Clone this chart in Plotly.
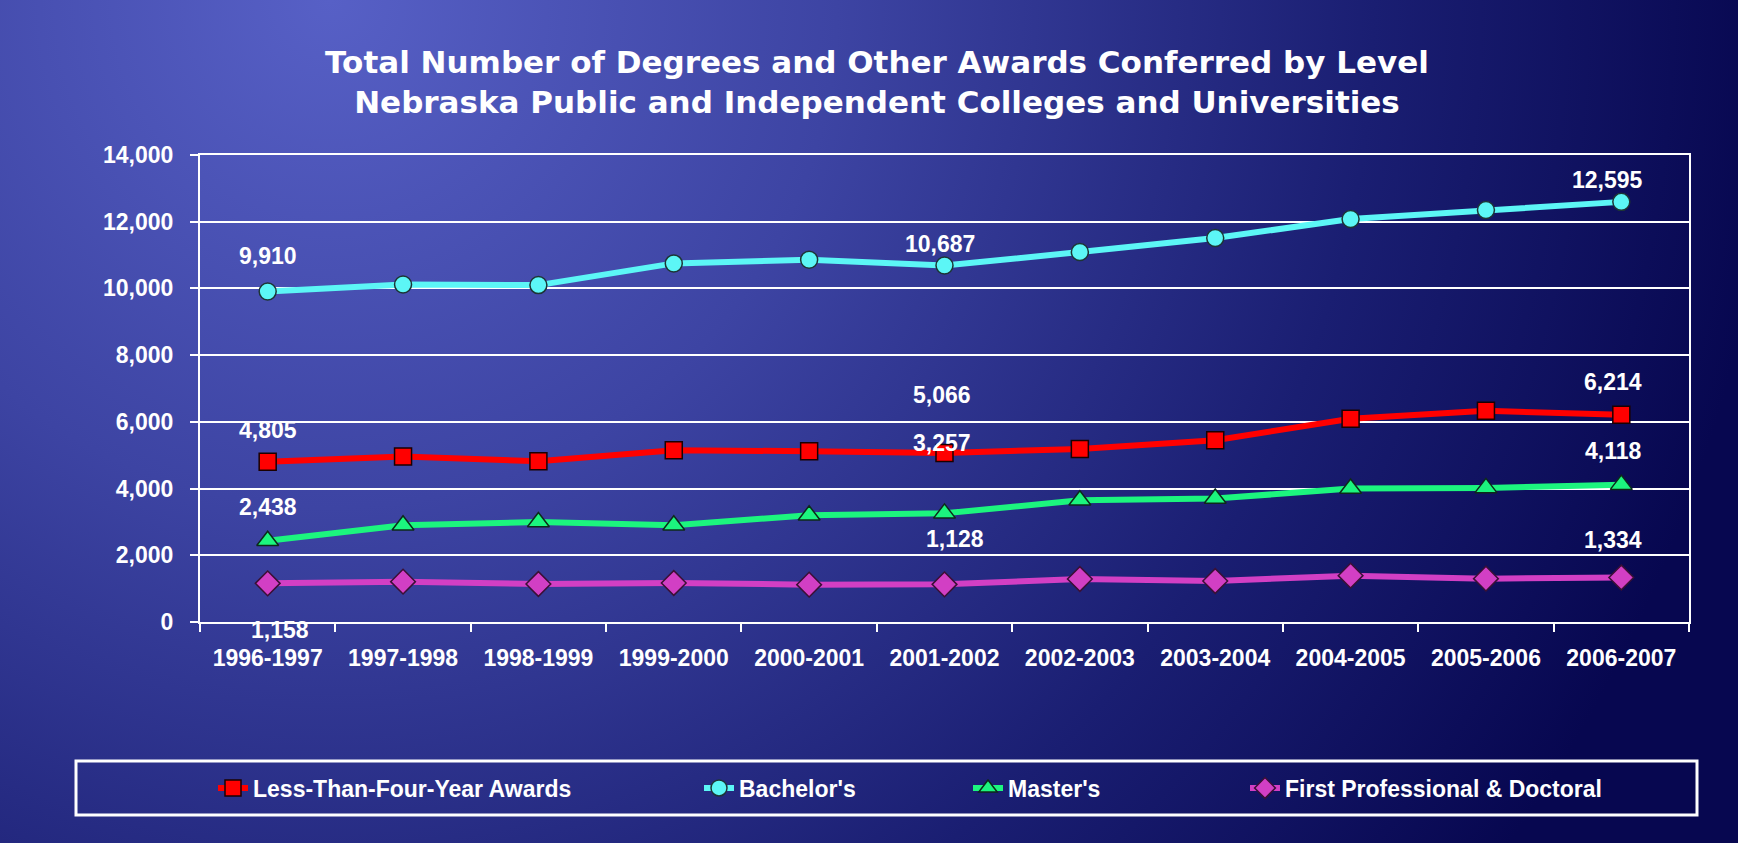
import base64
import plotly.graph_objects as go

# ---------------- data ----------------
years = ["1996-1997", "1997-1998", "1998-1999", "1999-2000", "2000-2001", "2001-2002",
         "2002-2003", "2003-2004", "2004-2005", "2005-2006", "2006-2007"]
less_than_four = [4805, 4960, 4820, 5150, 5120, 5066, 5190, 5450, 6090, 6330, 6214]
bachelors = [9910, 10120, 10100, 10750, 10860, 10687, 11090, 11510, 12080, 12350, 12595]
masters = [2438, 2900, 3000, 2900, 3200, 3257, 3650, 3700, 4000, 4020, 4118]
first_prof = [1158, 1210, 1140, 1170, 1120, 1128, 1290, 1230, 1390, 1300, 1334]
series_names = ["Less-Than-Four-Year Awards", "Bachelor's", "Master's", "First Professional & Doctoral"]
y_ticks = [0, 2000, 4000, 6000, 8000, 10000, 12000, 14000]
labeled_idx = [0, 5, 10]

# ---------------- layout geometry ----------------
W, H = 1738, 843
ML, MR, MT, MB = 200, 49, 155, 221
PW, PH = W - ML - MR, H - MT - MB

def px_x(px):
    return (px - ML) / PW

def px_y(py):
    return (H - MB - py) / PH

FONT = "Liberation Sans, Arial, Helvetica, sans-serif"
TITLE_FONT = "DejaVu Sans, Verdana, sans-serif"

styles = [
    dict(color="#ff0000", symbol="square", size=17, edge="#1a0000"),
    dict(color="#5cf6f6", symbol="circle", size=17, edge="#1d3535"),
    dict(color="#1cf57e", symbol="triangle-up", size=19, edge="#0d2a1a"),
    dict(color="#d23fc4", symbol="diamond", size=19, edge="#3a1035"),
]
series = [less_than_four, bachelors, masters, first_prof]
legend_ids = ["legend", "legend2", "legend3", "legend4"]
legend_left_px = [213, 699, 968, 1245]

# label offsets (pixels) for the labeled points: (xshift, yshift)
label_offsets = [
    [(0, 32), (-3, 58), (-8, 33)],
    [(0, 35), (-5, 22), (-14, 22)],
    [(0, 34), (-3, 70), (-8, 34)],
    [(12, -47), (10, 45), (-8, 38)],
]

fig = go.Figure()
for name, vals, st, lg in zip(series_names, series, styles, legend_ids):
    fig.add_trace(go.Scatter(
        x=years, y=vals, name=name, mode="lines+markers", legend=lg,
        line=dict(color=st["color"], width=6),
        marker=dict(symbol=st["symbol"], size=st["size"], color=st["color"],
                    line=dict(color=st["edge"], width=1.5)),
    ))

annotations = []
for vals, offs in zip(series, label_offsets):
    for i, (dx, dy) in zip(labeled_idx, offs):
        annotations.append(dict(
            x=years[i], y=vals[i], xref="x", yref="y", text=f"{vals[i]:,}",
            showarrow=False, xshift=dx, yshift=dy,
            font=dict(family=FONT, size=23, color="white", weight="bold"),
        ))

# gradient background
svg = f'''<svg xmlns="http://www.w3.org/2000/svg" width="{W}" height="{H}" viewBox="0 0 {W} {H}" preserveAspectRatio="none">
<defs><radialGradient id="g" cx="330" cy="0" r="1450" gradientUnits="userSpaceOnUse">
<stop offset="0" stop-color="#5760c6"/><stop offset="0.35" stop-color="#3d44a3"/>
<stop offset="0.72" stop-color="#1a1e72"/><stop offset="1" stop-color="#070750"/></radialGradient></defs>
<rect width="{W}" height="{H}" fill="url(#g)"/></svg>'''
bg_src = "data:image/svg+xml;base64," + base64.b64encode(svg.encode()).decode()

legend_common = dict(
    orientation="h", xref="container", yref="container", xanchor="left", yanchor="middle",
    y=1 - 788 / H, bgcolor="rgba(0,0,0,0)", borderwidth=0,
    font=dict(family=FONT, size=23, color="white", weight="bold"),
)
legends = {}
for lg, lx in zip(legend_ids, legend_left_px):
    legends[lg] = dict(legend_common, x=lx / W)

fig.update_layout(
    width=W, height=H,
    margin=dict(l=ML, r=MR, t=MT, b=MB, pad=0),
    paper_bgcolor="#1c2178", plot_bgcolor="rgba(0,0,0,0)",
    title=dict(
        text="Total Number of Degrees and Other Awards Conferred by Level<br>"
             "Nebraska Public and Independent Colleges and Universities",
        x=877 / W, xanchor="center", xref="container",
        y=1 - 73 / H, yanchor="top", yref="container",
        font=dict(family=TITLE_FONT, size=31, color="white", weight="bold"),
    ),
    xaxis=dict(
        type="category", range=[-0.5, len(years) - 0.5],
        showline=True, linecolor="white", linewidth=2, mirror=True,
        ticks="outside", ticklen=8, tickwidth=2, tickcolor="white", tickson="boundaries",
        showgrid=False, zeroline=False,
        tickfont=dict(family=FONT, size=23, color="white", weight="bold"),
        ticklabelstandoff=14,
    ),
    yaxis=dict(
        range=[0, 14000], tickvals=y_ticks, tickformat=",",
        showline=True, linecolor="white", linewidth=2, mirror=True,
        ticks="outside", ticklen=8, tickwidth=2, tickcolor="white",
        showgrid=True, gridcolor="white", gridwidth=2, zeroline=False,
        tickfont=dict(family=FONT, size=23, color="white", weight="bold"),
        ticklabelstandoff=12,
    ),
    annotations=annotations,
    shapes=[dict(type="rect", xref="paper", yref="paper",
                 x0=px_x(76), x1=px_x(1697), y0=px_y(815), y1=px_y(761),
                 line=dict(color="white", width=3), fillcolor="rgba(0,0,0,0)")],
    images=[dict(source=bg_src, xref="paper", yref="paper",
                 x=px_x(0), y=px_y(0), sizex=W / PW, sizey=H / PH,
                 xanchor="left", yanchor="top", sizing="stretch", layer="below")],
    showlegend=True,
    **legends,
)

fig.write_html(
    "out.html",
    config={"displayModeBar": False},
    post_script="document.body.style.margin='0';document.body.style.overflow='hidden';"
                "document.body.style.background='#070750';",
)
